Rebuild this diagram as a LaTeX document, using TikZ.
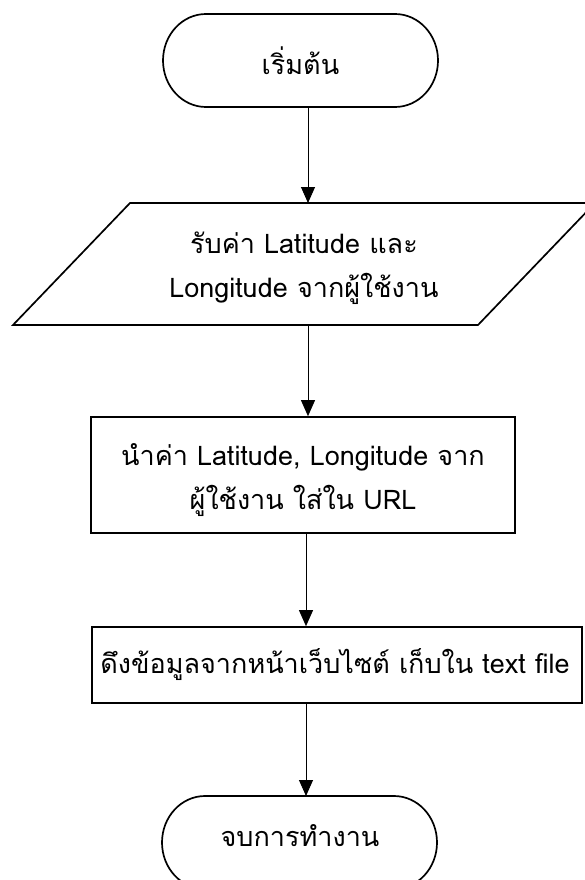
\documentclass[tikz,border=0pt]{standalone}
\usepackage{fontspec}
\newfontfamily\thaifont[Script=Thai]{Loma}
\usetikzlibrary{arrows.meta}
\begin{document}
\begin{tikzpicture}[x=1pt,y=-1pt,
  shapeline/.style={draw=black,line width=1.7pt},
  txt/.style={font=\thaifont\fontsize{27}{44}\selectfont,align=center,inner sep=0pt},
  arr/.style={line width=0.9pt,-{Triangle[length=16pt,width=14pt]}}]
\useasboundingbox (0,0) rectangle (585,880);
% start terminal
\draw[shapeline] (206,14) -- (395,14) arc[start angle=-90,end angle=90,x radius=43,y radius=46.5] -- (206,107) arc[start angle=90,end angle=270,x radius=43,y radius=46.5] -- cycle;
\node[txt] (start) at (300.5,61) {เริ่มต้น};
\coordinate (startb) at (300.5,107);
% input parallelogram
\draw[shapeline] (130,203) -- (595,203) -- (478,325) -- (13,325) -- cycle;
\node[txt] (para) at (304,268) {รับค่า Latitude และ\\Longitude จากผู้ใช้งาน};
\coordinate (parat) at (304,203);
\coordinate (parab) at (304,325);
% process 1
\node[shapeline,minimum width=424pt,minimum height=116pt,inner sep=0pt] (p1) at (303,475) {};
\node[txt] (p1t) at (303,480) {นำค่า Latitude, Longitude จาก\\ผู้ใช้งาน ใส่ใน URL};
% process 2
\node[shapeline,minimum width=490pt,minimum height=76pt,inner sep=0pt] (p2) at (337,665) {};
\node[txt] (p2t) at (335,665) {ดึงข้อมูลจากหน้าเว็บไซต์ เก็บใน text file};
% end terminal
\draw[shapeline] (205,796) -- (394,796) arc[start angle=-90,end angle=90,x radius=43,y radius=46.5] -- (205,889) arc[start angle=90,end angle=270,x radius=43,y radius=46.5] -- cycle;
\node[txt] (endn) at (300,836) {จบการทำงาน};
\coordinate (endt) at (300,796);
% arrows
\coordinate (ax1) at (308,0);
\coordinate (ax2) at (306,0);
\draw[arr] (startb -| ax1) -- (parat -| ax1);
\draw[arr] (parab -| ax1) -- (p1.north -| ax1);
\draw[arr] (p1.south -| ax2) -- (p2.north -| ax2);
\draw[arr] (p2.south -| ax2) -- (endt -| ax2);
\end{tikzpicture}
\end{document}
